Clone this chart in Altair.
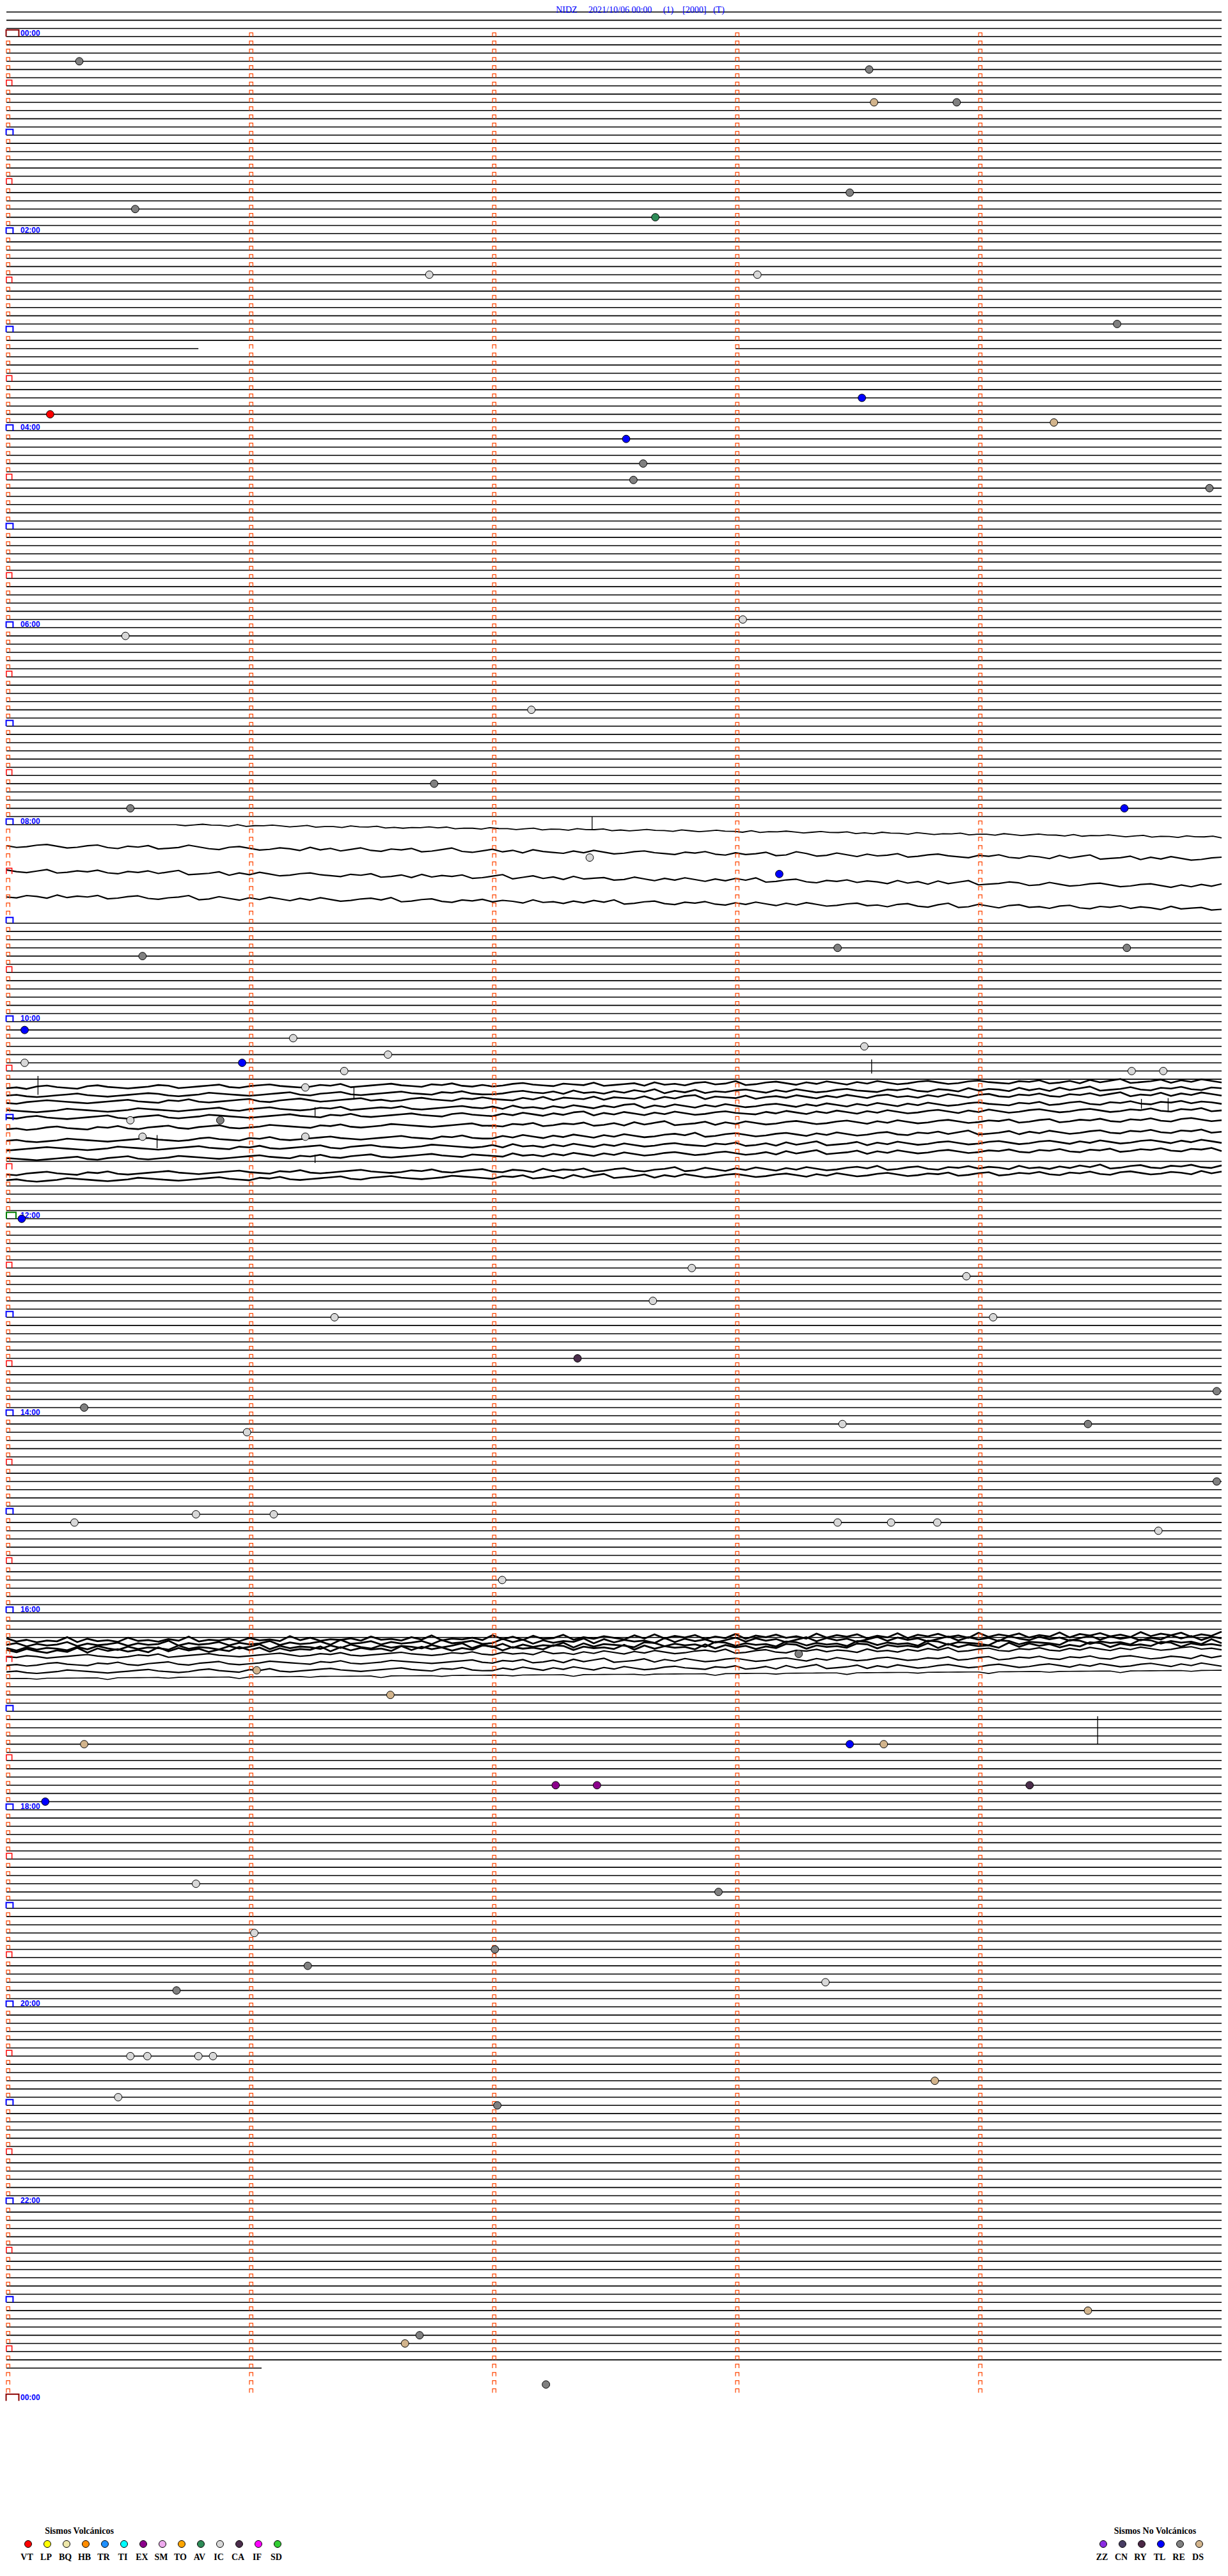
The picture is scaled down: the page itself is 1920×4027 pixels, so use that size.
import altair as alt
import pandas as pd

# ---------------- data ----------------
title_text = ("NIDZ\u00a0\u00a0\u00a0\u00a0\u00a02021/10/06 00:00\u00a0\u00a0\u00a0\u00a0\u00a0(1)"
              "\u00a0\u00a0\u00a0\u00a0[2000]\u00a0\u00a0\u00a0(T)")

ROWS = 288            # 5-minute rows in the day
trace_first = -4      # rows drawn above 00:00
trace_last = 284      # last row with data
trace_last_end = 1.05 # minute where the last row stops
gap_rows = [38, 96]
gap_from = [0.79, 0.70]
gap_to = [3.0, 5.0]
# rows without a drawn trace
quiet_missing = [97, 98, 100, 101, 103, 104, 106, 107]

# recorded waveforms: row, start minute, baseline shift at start / end (rows),
# samples (digit-4 = tenths of a row, positive = downwards)
wave_row = [96, 99, 102, 105,
            128, 129, 130, 131, 132, 133, 134, 135, 136, 138, 139,
            196, 196, 196, 196, 197, 198, 199, 200]
wave_start = [0.70, 0, 0, 0,
              0, 0, 0, 0, 0, 0, 0, 0, 0, 0, 0,
              0, 0, 0, 0, 0, 0, 0, 0]
wave_off0 = [0.0, -0.45, -0.40, -0.30,
             0.0, 0.0, -0.2, -0.15, -0.3, 0.0, 0.5, 0.5, 0.7, 0.5, 0.3,
             -0.7, -0.2, 0.3, 0.6, 0.35, 0.3, 0.2, 0.0]
wave_off1 = [1.5, 1.15, 1.5, 1.2,
             -0.8, -0.9, -1.2, -1.2, -1.3, -1.1, -0.7, -0.45, -0.45, -0.4, -0.65,
             -1.4, -1.0, -0.5, -0.2, -0.7, -0.65, -0.7, -1.0]
wave_samples = [
    "4543445354434543544534435454434354453445435445344354543445345434453544345434435453445345443544534543445354434543544534435",
    "4653246532563426541356324653462536425634265315642536245635246532456342563542651365246354265324563425634625316542635246532",
    "3564265342563425316542635246532456342653625342653164253625436524635246352416532563425346253625316542365246532465324635241",
    "5634625342653256431652463524635246532416532563425346254635241653256342563524635246532546325631652463254632563425346254365",
    "5463245632456542365432564324565342654324563425646532456345265436254632541653246352463524653246532456342653625316542635246",
    "4356543245654323565423456543256432565432456342566532453625463524163526453246352465324563425634625346253625316542563425634",
    "5643234565432456342565432564324654325465324563424563526345263452635216345264352463524632546352463256342563425316452635246",
    "3456542345654234565432564324565342654342565432453625463524635216352463524653246352463524635246532456342653256342563425346",
    "4532456543256432565423456543245634256543245632456352463521635246352465324563524635246352465324635246532465324653425634265",
    "5465324563425643256432565423456342565423456543255634265342653625316542635246532465324635246532465342653265342563425632465",
    "4356542345654324565324563425654324565432456342566352463524635246532416532465324635246532563425316542635246532563425634265",
    "6543234565423456543245634256543256432456542345653625463524635246532456342653625316542635246532465324653246352465324635246",
    "3456543256432565423456543245634256432565432456345625463524635246532465324653625316542635246532465342563425634265342563426",
    "5643245634256543245654324563425654324565342564325634625342653256431652463524635246532416532563425346254635241653256342563",
    "4356542345654234565432456342565432564324565423456342653625316542635246532465324635246532465342653265342563425632465346253",
    "2647561736572657461756473657163756472657361756471637265174635726163527461735264716352746173526471635274617352647163527461",
    "5374652746537465174653746527465371653746537265376152736451726354716253741625374162537416253741625371462537416253746152735",
    "4736457362573645726457364173645736257364573641736273645172634571263547126354712635471263547126345712634571263547126354716",
    "3625746172536471625374615273645172635471625374612735461273546172635471625374612735461273546172635471625374612735461273546",
    "4534654324565342654324565432465342565432456534256354625463524635246532416532563425346254635241653256342563524635246532546",
    "5465324563425643256432565423456342565423456543256342653625316542635246532465324635246532465342653265342563425632465346253",
    "4356542345654324565324563425654324565432456342566352463524635246532456342653625316542635246532465324653246352465324635246",
    "4445444444644444544444464444445444444644444544444454444464444445444444644444544444464444445444444644444544444464444445444",
]
wave_width = [1.8, 2.2, 2.2, 2.2,
              2.6, 2.6, 2.6, 2.6, 2.6, 2.6, 2.6, 2.6, 2.6, 2.6, 2.6,
              2.8, 2.8, 2.8, 2.8, 2.2, 2.2, 2.2, 1.6]

# isolated spikes / bursts: row, minute, extent up and down (rows)
spk_row = [96, 128, 126, 206, 130, 130, 129, 135, 137, 131]
spk_min = [2.41, 0.13, 3.56, 4.49, 4.67, 4.78, 1.43, 0.62, 1.27, 1.27]
spk_up = [1.0, 1.4, 1.4, 1.4, 0.6, 0.7, 1.0, 1.2, 0.8, 0.6]
spk_dn = [0.6, 0.9, 0.3, 2.0, 0.6, 1.0, 0.5, 0.4, 0.2, 0.5]

ev_row = [3, 4, 8, 8, 21, 19, 22, 29, 29, 35, 44, 46, 47, 49, 52, 54, 55, 73, 71, 82,
          91, 94, 94, 100, 102, 112, 111, 111, 121, 122, 125, 124, 123, 125, 126, 126, 126,
          128, 132, 132, 134, 134, 144, 150, 151, 154, 156, 156, 161, 165, 167, 170, 169,
          169, 176, 181, 180, 180, 181, 181, 181, 182, 188, 197, 199, 202, 208, 208, 208,
          213, 213, 213, 215, 225, 226, 231, 233, 235, 238, 237, 246, 246, 246, 246, 249,
          251, 252, 277, 280, 281, 286]
ev_min = [0.30, 3.55, 3.57, 3.91, 0.53, 3.47, 2.67, 1.74, 3.09, 4.57, 3.52, 0.18, 4.31,
          2.55, 2.62, 2.58, 4.95, 0.49, 3.03, 2.16, 1.76, 0.51, 4.60, 2.40, 3.18, 0.56,
          3.42, 4.61, 0.075, 1.18, 0.97, 1.57, 3.53, 0.075, 1.39, 4.63, 4.76, 1.23, 0.51,
          0.88, 0.56, 1.23, 0.063, 2.82, 3.95, 2.66, 1.35, 4.06, 2.35, 4.98, 0.32, 0.99,
          3.44, 4.45, 4.98, 0.28, 0.78, 1.10, 3.42, 3.64, 3.83, 4.74, 2.04, 3.26, 1.03,
          1.58, 0.32, 3.47, 3.61, 2.26, 2.43, 4.21, 0.16, 0.78, 2.93, 1.02, 2.01, 1.24,
          0.70, 3.37, 0.51, 0.58, 0.79, 0.85, 3.82, 0.46, 2.02, 4.45, 1.70, 1.64, 2.22]
ev_type = ["RE", "RE", "DS", "RE", "RE", "RE", "AV", "IC", "IC", "RE", "TL", "VT", "DS",
           "TL", "RE", "RE", "RE", "IC", "IC", "IC", "RE", "RE", "TL", "IC", "TL", "RE",
           "RE", "RE", "TL", "IC", "TL", "IC", "IC", "IC", "IC", "IC", "IC", "IC", "IC",
           "RE", "IC", "IC", "TL", "IC", "IC", "IC", "IC", "IC", "CA", "RE", "RE", "IC",
           "IC", "RE", "RE", "IC", "IC", "IC", "IC", "IC", "IC", "IC", "IC", "RE", "DS",
           "DS", "DS", "TL", "DS", "EX", "EX", "CA", "TL", "IC", "RE", "IC", "RE", "RE",
           "RE", "IC", "IC", "IC", "IC", "IC", "DS", "IC", "RE", "DS", "RE", "DS", "RE"]

vol_codes = ["VT", "LP", "BQ", "HB", "TR", "TI", "EX", "SM", "TO", "AV", "IC", "CA", "IF", "SD"]
vol_colors = ["#FF0000", "#FFFF00", "#EEE8AA", "#FF8C00", "#1E90FF", "#00FFFF", "#8B008B",
              "#EEAAEE", "#FFA500", "#2E8B57", "#D8D8D8", "#4B2D4B", "#FF00FF", "#32CD32"]
nv_codes = ["ZZ", "CN", "RY", "TL", "RE", "DS"]
nv_colors = ["#8A2BE2", "#483D63", "#4B2846", "#0000FF", "#808080", "#D2B48C"]

# ---------------- tables ----------------
wave_rows_set = set(r for r, s in zip(wave_row, wave_start) if s == 0)
segs = []
for r in range(trace_first, trace_last + 1):
    if r in wave_rows_set or r in quiet_missing:
        continue
    end = trace_last_end if r == trace_last else 5.0
    cuts = [(0.0, end)]
    for gr, gf, gt in zip(gap_rows, gap_from, gap_to):
        if gr == r:
            cuts = [(0.0, gf)] + ([(gt, end)] if gt < end else [])
    for a, b in cuts:
        segs.append({"row": r, "x0": a, "x1": b})
segs = pd.DataFrame(segs)

wpts = []
for k, (r, m0, o0, o1, s, w) in enumerate(zip(wave_row, wave_start, wave_off0, wave_off1,
                                                wave_samples, wave_width)):
    n = len(s)
    for i, ch in enumerate(s):
        f = i / (n - 1)
        wpts.append({"id": k, "i": i, "w": w, "m": m0 + (5 - m0) * f,
                     "y": r + o0 + (o1 - o0) * f + (int(ch) - 4) / 10.0})
wpts = pd.DataFrame(wpts)

spikes = pd.DataFrame({"m": spk_min, "y0": [r - u for r, u in zip(spk_row, spk_up)],
                       "y1": [r + d for r, d in zip(spk_row, spk_dn)]})

ticks = pd.DataFrame([{"row": r, "m": m} for r in range(ROWS) for m in range(1, 5)] +
                     [{"row": r, "m": 0} for r in range(ROWS) if r % 6 != 0])
half = pd.DataFrame([{"row": r, "m": 0} for r in range(ROWS) if r % 12 == 6])
hourly = pd.DataFrame([{"row": r, "m": 0} for r in range(12, ROWS, 12) if r != 144])
noon = pd.DataFrame([{"row": 144, "m": 0}])
midnight = pd.DataFrame([{"row": 0, "m": 0}, {"row": ROWS, "m": 0}])
labels = pd.DataFrame([{"row": r, "m": 0, "t": "%02d:00" % ((r // 12) % 24)}
                       for r in range(0, ROWS + 1, 24)])
events = pd.DataFrame({"row": ev_row, "m": ev_min, "type": ev_type})
vol = pd.DataFrame({"i": range(len(vol_codes)), "code": vol_codes, "color": vol_colors})
nv = pd.DataFrame({"i": range(len(nv_codes)), "code": nv_codes, "color": nv_colors})

# ---------------- scales ----------------
xs = alt.Scale(domain=[0, 5], range=[2, 1902])
ys = alt.Scale(domain=[0, ROWS], range=[49.3, 3745.3])


def X(f):
    return alt.X(f + ":Q", scale=xs, axis=None)


def Y(f):
    return alt.Y(f + ":Q", scale=ys, axis=None)


lines = alt.Chart(segs).mark_rule(color="black", strokeWidth=1.6).encode(
    x=X("x0"), x2="x1", y=Y("row"))

waves = alt.Chart(wpts).mark_line(color="black", strokeJoin="round").encode(
    x=X("m"), y=Y("y"), detail="id:N", order="i:Q",
    strokeWidth=alt.StrokeWidth("w:Q", scale=None))

spk_l = alt.Chart(spikes).mark_rule(color="black", strokeWidth=1.3).encode(
    x=X("m"), y=Y("y0"), y2="y1")

tick_l = alt.Chart(ticks).mark_point(
    shape="M-0.9,1L-0.9,-1L0.9,-1L0.9,1", size=36, filled=False, stroke="#FF4500",
    strokeWidth=1.2, opacity=1, xOffset=2.7, yOffset=-3).encode(x=X("m"), y=Y("row"))
half_l = alt.Chart(half).mark_point(
    shape="M-0.97,1L-0.97,-1L0.97,-1L0.97,1", size=81, filled=False, stroke="#FF0000",
    strokeWidth=1.5, opacity=1, xOffset=4.3, yOffset=-4.5).encode(x=X("m"), y=Y("row"))
hour_l = alt.Chart(hourly).mark_point(
    shape="M-1.2,1L-1.2,-1L1.2,-1L1.2,1", size=81, filled=False, stroke="#0000FF",
    strokeWidth=2, opacity=1, xOffset=5, yOffset=-4.5).encode(x=X("m"), y=Y("row"))
noon_l = alt.Chart(noon).mark_point(
    shape="M-1.5,1L-1.5,-1L1.5,-1L1.5,1", size=100, filled=False, stroke="#008000",
    strokeWidth=2, opacity=1, xOffset=7.5, yOffset=-5).encode(x=X("m"), y=Y("row"))
mid_l = alt.Chart(midnight).mark_point(
    shape="M-1.9,1L-1.9,-1L1.9,-1L1.9,1", size=110, filled=False, stroke="#8B0000",
    strokeWidth=2, opacity=1, xOffset=9.5, yOffset=-5.2).encode(x=X("m"), y=Y("row"))

lab_l = alt.Chart(labels).mark_text(
    align="left", baseline="middle", dx=22, dy=-5, font="Liberation Sans",
    fontWeight="bold", fontSize=12, color="#0000FF").encode(x=X("m"), y=Y("row"), text="t")

title_l = alt.Chart(pd.DataFrame({"t": [title_text]})).mark_text(
    align="center", baseline="middle", font="Liberation Serif", fontSize=14,
    color="#0000FF").encode(x=alt.value(993), y=alt.value(7.5), text="t")

ev_l = alt.Chart(events).mark_circle(size=140, stroke="black", strokeWidth=1, opacity=1).encode(
    x=X("m"), y=Y("row"),
    color=alt.Color("type:N", scale=alt.Scale(domain=vol_codes + nv_codes,
                                              range=vol_colors + nv_colors), legend=None))

vx = alt.Scale(domain=[0, len(vol_codes) - 1], range=[36, 426])
nx = alt.Scale(domain=[0, len(nv_codes) - 1], range=[1717, 1867])
vol_c = alt.Chart(vol).mark_circle(size=120, stroke="black", strokeWidth=1, opacity=1).encode(
    x=alt.X("i:Q", scale=vx, axis=None), y=alt.value(3969),
    color=alt.Color("color:N", scale=None))
vol_t = alt.Chart(vol).mark_text(font="Liberation Serif", fontWeight="bold", fontSize=14,
                                 baseline="middle", dx=-2, color="black").encode(
    x=alt.X("i:Q", scale=vx, axis=None), y=alt.value(3990), text="code")
nv_c = alt.Chart(nv).mark_circle(size=120, stroke="black", strokeWidth=1, opacity=1).encode(
    x=alt.X("i:Q", scale=nx, axis=None), y=alt.value(3969),
    color=alt.Color("color:N", scale=None))
nv_t = alt.Chart(nv).mark_text(font="Liberation Serif", fontWeight="bold", fontSize=14,
                               baseline="middle", dx=-2, color="black").encode(
    x=alt.X("i:Q", scale=nx, axis=None), y=alt.value(3990), text="code")
heads = alt.Chart(pd.DataFrame({"t": ["Sismos Volcánicos", "Sismos No Volcánicos"],
                                "i": [0, 1]})).mark_text(
    font="Liberation Serif", fontWeight="bold", fontSize=14, baseline="middle",
    color="black").encode(x=alt.X("i:Q", scale=alt.Scale(domain=[0, 1], range=[116, 1798]),
                                  axis=None), y=alt.value(3949), text="t")

chart = alt.layer(lines, waves, spk_l, tick_l, half_l, hour_l, noon_l, mid_l, lab_l, title_l,
                  ev_l, vol_c, vol_t, nv_c, nv_t, heads).resolve_scale(
    x="independent", y="independent", color="independent").properties(
    width=1904, height=4000, padding=0, autosize=alt.AutoSizeParams(type="none")
).configure_view(stroke=None)

chart.save("out.html", embed_options={"renderer": "svg", "actions": False})
